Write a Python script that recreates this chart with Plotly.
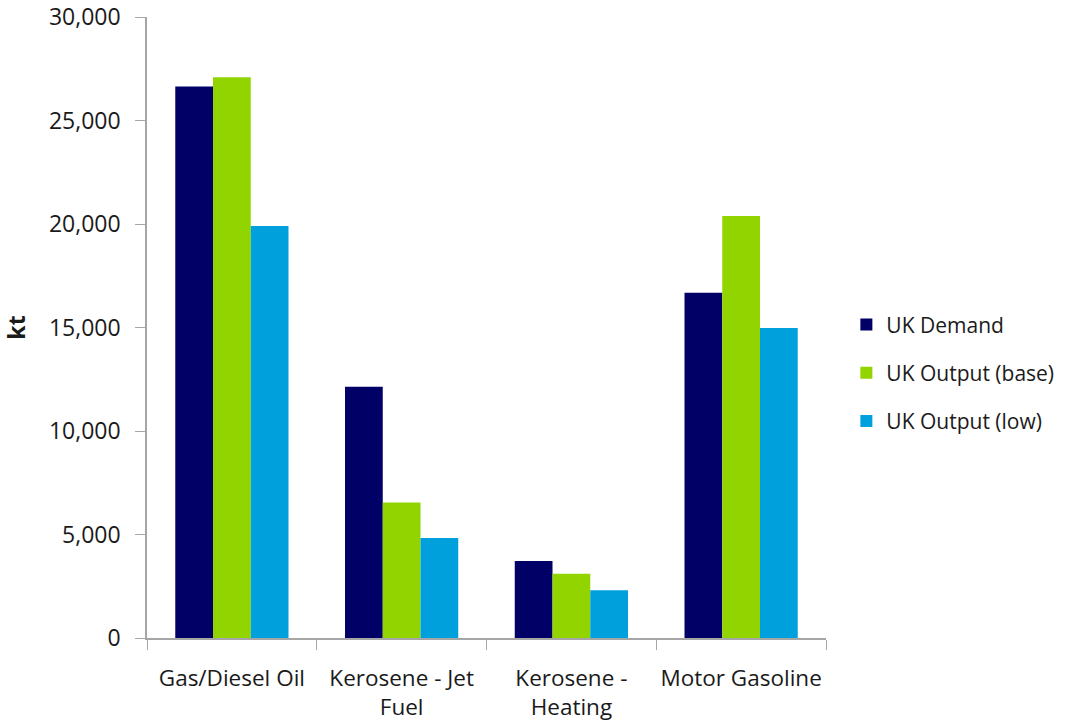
import plotly.graph_objects as go

categories = ["Gas/Diesel Oil", "Kerosene - Jet<br>Fuel", "Kerosene -<br>Heating", "Motor Gasoline"]
uk_demand = [26640, 12140, 3720, 16680]
uk_output_base = [27090, 6550, 3100, 20390]
uk_output_low = [19900, 4830, 2310, 14970]

series = [
    ("UK Demand", uk_demand, "#000066"),
    ("UK Output (base)", uk_output_base, "#92D400"),
    ("UK Output (low)", uk_output_low, "#00A0DC"),
]

FONT = "Open Sans"
TXT = "#1a1a1a"
fig = go.Figure()
for name, vals, col in series:
    fig.add_trace(go.Bar(x=categories, y=vals, name=name, legendgroup=name,
                         marker=dict(color=col, line=dict(width=0))))

fig.update_layout(
    width=1072, height=724,
    margin=dict(l=147, r=246, t=17, b=86),
    paper_bgcolor="white", plot_bgcolor="white",
    barmode="group", bargap=0.333, bargroupgap=0,
    font=dict(family=FONT, size=23, color=TXT),
    legend=dict(x=1.03, y=0.427, xanchor="left", yanchor="middle",
                font=dict(family=FONT, size=21, color=TXT),
                traceorder="grouped", tracegroupgap=18, itemwidth=30),
    showlegend=True,
)
fig.update_xaxes(
    showline=True, linecolor="#A6A6A6", linewidth=1.5,
    ticks="outside", tickson="boundaries", ticklen=10, tickcolor="#A6A6A6",
    showgrid=False, tickangle=0, automargin=False, ticklabelstandoff=19,
    tickfont=dict(family=FONT, size=22.5, color=TXT),
)
fig.update_yaxes(
    range=[0, 30000], dtick=5000, tickformat=",",
    showline=True, linecolor="#A6A6A6", linewidth=1.5,
    ticks="outside", ticklen=10, tickcolor="#A6A6A6",
    showgrid=False, zeroline=False, automargin=False, ticklabelstandoff=10,
    ticklabeloverflow="allow",
    tickfont=dict(family=FONT, size=23, color=TXT),
    title=dict(text="<b>kt</b>", font=dict(family=FONT, size=23, color=TXT), standoff=26),
)
fig.write_html("out.html", config={"displayModeBar": False},
               post_script="document.body.style.margin='0';")
